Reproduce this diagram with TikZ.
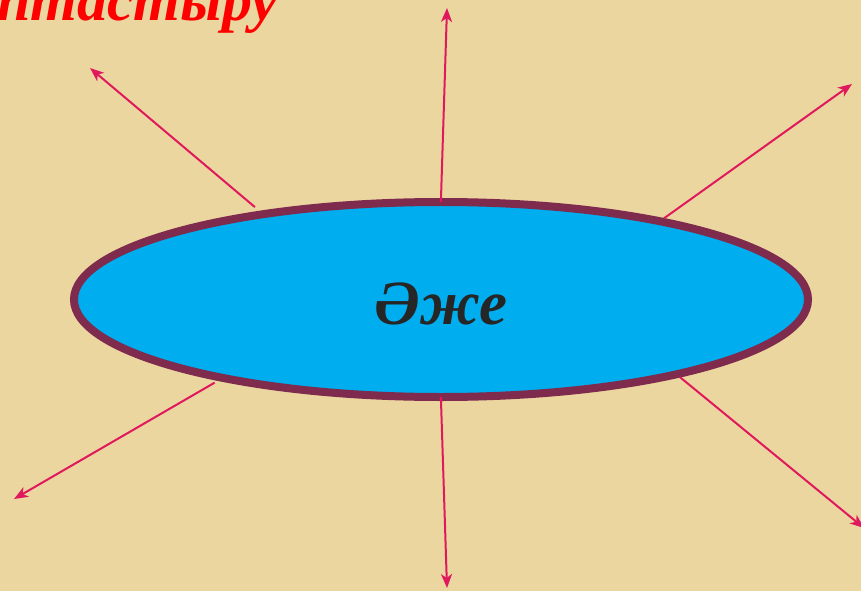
\documentclass[tikz,border=0pt]{standalone}
\usepackage{fontspec}
\setmainfont{Liberation Serif}
\usetikzlibrary{arrows.meta}
\usetikzlibrary{shapes.geometric}
\definecolor{paper}{HTML}{EBD6A0}
\definecolor{ovalfill}{HTML}{00AEEF}
\definecolor{ovalrim}{HTML}{7E2B4E}
\definecolor{spoke}{HTML}{E0185C}
\definecolor{ink}{HTML}{262626}
\tikzset{
    spokeline/.style={draw=spoke, line width=2pt, -{Stealth[length=14pt,width=11pt,inset=4pt]}},
    bigoval/.style={ellipse, draw=ovalrim, fill=ovalfill, line width=8pt,
        minimum width=734pt, minimum height=195pt, inner sep=0pt},
}

\begin{document}
\begin{tikzpicture}[x=1pt,y=-1pt]
        \useasboundingbox (0,0) rectangle (861,591);
        \fill[paper] (0,0) rectangle (861,591);
        \begin{scope}
            \clip (0,0) rectangle (861,591);
            \node[anchor=base east, text=red, inner sep=0pt,
                font=\bfseries\itshape\fontsize{60}{64}\selectfont] (title) at (278,21) {Топтастыру};
        \end{scope}
        \node[bigoval] (oval) at (441,299.5) {};
        \node[text=ink, font=\bfseries\itshape\fontsize{63}{70}\selectfont, yshift=-4pt] (word) at (oval.center) {Әже};
        % arrow ends
        \coordinate (ulend) at (90,68);
        \coordinate (upend) at (447,8);
        \coordinate (urend) at (852,84);
        \coordinate (llend) at (14,499);
        \coordinate (dnend) at (447,588);
        \coordinate (lrend) at (864,528);
        \draw[spokeline, shorten <=6pt] (oval.154) -- (ulend);
        \draw[spokeline, shorten <=-4pt] (oval.north) -- (upend);
        \draw[spokeline] (oval.20) -- (urend);
        \draw[spokeline, shorten <=4pt] (oval.200) -- (llend);
        \draw[spokeline, shorten <=-4pt] (oval.south) -- (dnend);
        \draw[spokeline] (oval.-18) -- (lrend);
    \end{tikzpicture}
\end{document}
